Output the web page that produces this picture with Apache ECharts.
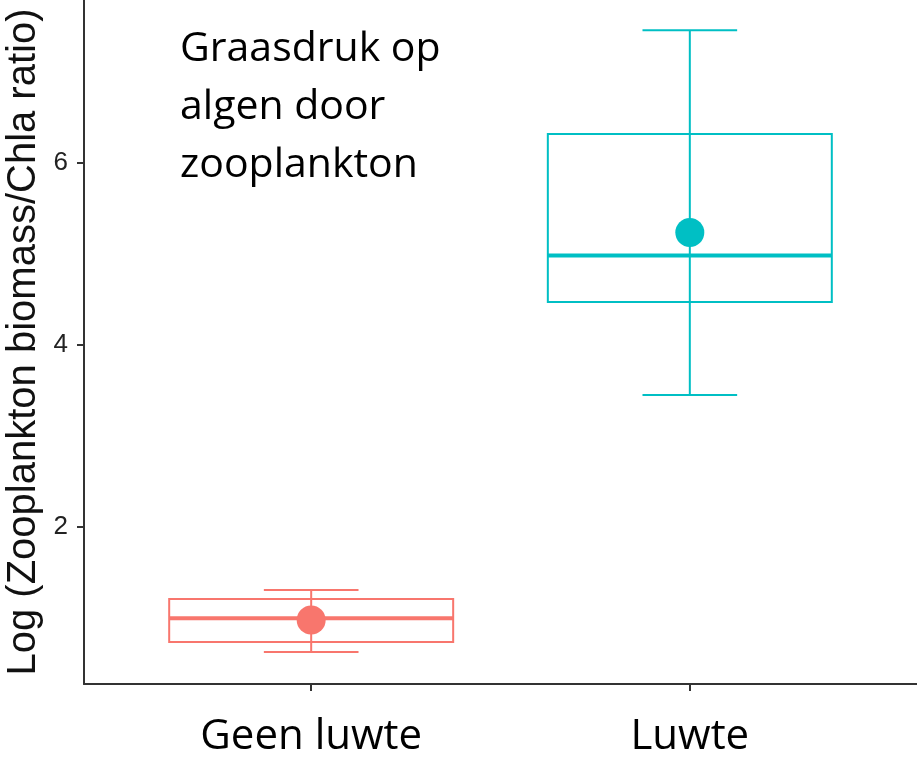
<!DOCTYPE html>
<html><head><meta charset="utf-8">
<script src="https://cdn.jsdelivr.net/npm/echarts@6/dist/echarts.min.js"></script>
<style>html,body{margin:0;padding:0;background:#fff}#c{width:917px;height:758px}</style>
</head><body><div id="c"></div>
<script>
const categories = ['Geen luwte', 'Luwte'];
const whiskerLow = [0.63, 3.45];
const quartile1 = [0.74, 4.47];
const medians = [1.00, 4.98];
const quartile3 = [1.21, 6.31];
const whiskerHigh = [1.31, 7.45];
const means = [0.98, 5.23];
const yTicks = [2, 4, 6];
const xTicks = [1, 2];
const annotationLines = ['Graasdruk op', 'algen door', 'zooplankton'];
const colors = ['#F8766D', '#00BFC4'];

const data = categories.map((c, i) => [xTicks[i], whiskerLow[i], quartile1[i], medians[i], quartile3[i], whiskerHigh[i], means[i], i]);

function renderItem(params, api) {
  const x = api.value(0);
  const color = colors[api.value(7)];
  const pLow = api.coord([x, api.value(1)]);
  const pQ1 = api.coord([x, api.value(2)]);
  const pMed = api.coord([x, api.value(3)]);
  const pQ3 = api.coord([x, api.value(4)]);
  const pHigh = api.coord([x, api.value(5)]);
  const pMean = api.coord([x, api.value(6)]);
  const boxW = api.size([0.75, 0])[0];
  const capW = api.size([0.25, 0])[0];
  const cx = pLow[0];
  const ls = {stroke: color, lineWidth: 2, fill: null};
  return {type: 'group', children: [
    {type: 'line', shape: {x1: cx, y1: pLow[1], x2: cx, y2: pHigh[1]}, style: ls},
    {type: 'line', shape: {x1: cx - capW / 2, y1: pLow[1], x2: cx + capW / 2, y2: pLow[1]}, style: ls},
    {type: 'line', shape: {x1: cx - capW / 2, y1: pHigh[1], x2: cx + capW / 2, y2: pHigh[1]}, style: ls},
    {type: 'rect', shape: {x: cx - boxW / 2, y: pQ3[1], width: boxW, height: pQ1[1] - pQ3[1]}, style: {stroke: color, lineWidth: 2, fill: 'none'}},
    {type: 'line', shape: {x1: cx - boxW / 2, y1: pMed[1], x2: cx + boxW / 2, y2: pMed[1]}, style: {stroke: color, lineWidth: 4}},
    {type: 'circle', shape: {cx: cx, cy: pMean[1], r: 14.5}, style: {fill: color}}
  ]};
}

const chart = echarts.init(document.getElementById('c'), null, {renderer: 'canvas'});
chart.setOption({
  animation: false,
  backgroundColor: '#fff',
  grid: {left: 84, right: 0, top: 0, bottom: 74, containLabel: false, outerBoundsMode: 'none'},
  xAxis: {
    type: 'value', min: 0.4, max: 2.6,
    axisLine: {show: true, lineStyle: {color: '#333', width: 2}},
    axisTick: {show: true, customValues: xTicks, length: 7, lineStyle: {color: '#333', width: 2}},
    axisLabel: {customValues: xTicks, formatter: v => categories[Math.round(v) - 1], fontSize: 42, fontFamily: 'Open Sans', color: '#000', margin: 32},
    splitLine: {show: false}
  },
  yAxis: {
    type: 'value', min: 0.279, max: 7.781,
    axisLine: {show: true, lineStyle: {color: '#333', width: 2}},
    axisTick: {show: true, customValues: yTicks, length: 7, lineStyle: {color: '#333', width: 2}},
    axisLabel: {customValues: yTicks, fontSize: 26, fontFamily: 'Liberation Sans', color: '#222', margin: 16},
    splitLine: {show: false},
    name: 'Log (Zooplankton biomass/Chla ratio)', nameLocation: 'middle', nameRotate: 90, nameGap: 40,
    nameMoveOverlap: false,
    nameTextStyle: {fontSize: 40, fontFamily: 'Liberation Sans', color: '#111'}
  },
  graphic: [{
    type: 'text', x: 180, y: 20,
    style: {text: annotationLines.join('\n'), font: '41px "Open Sans"', lineHeight: 58, fill: '#000'}
  }],
  series: [{type: 'custom', renderItem: renderItem, data: data, encode: {x: 0, y: [1, 2, 3, 4, 5, 6]}, clip: false}]
});
</script></body></html>
